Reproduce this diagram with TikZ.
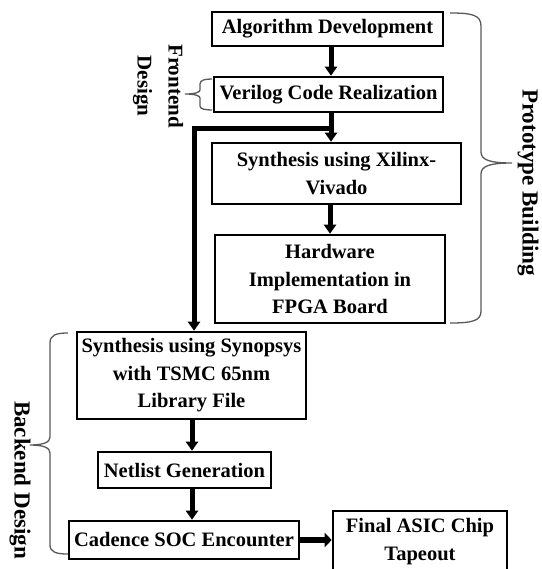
\documentclass[tikz,border=0pt]{standalone}
\usepackage{fontspec}
\setmainfont{Liberation Serif}
\usetikzlibrary{arrows.meta}
\begin{document}
\begin{tikzpicture}[x=1pt,y=-1pt,
  box/.style={draw, line width=2.6pt, align=center, inner sep=0pt,
    font=\fontsize{20.5}{27.5}\selectfont\bfseries},
  arr/.style={line width=5pt, -{Triangle[width=12pt,length=9pt]}},
  harr/.style={line width=6.5pt, -{Triangle[width=14pt,length=7pt]}},
  brc/.style={draw=black!65, line width=1.3pt},
  side/.style={rotate=-90, align=center, inner sep=0pt,
    font=\fontsize{23}{31}\selectfont\bfseries}
]
\useasboundingbox (0,0) rectangle (541,569);

\node[box, minimum width=231pt, minimum height=34pt] (alg) at (327.5,29) {Algorithm Development};
\node[box, minimum width=229pt, minimum height=35pt] (ver) at (328.5,94.5) {Verilog Code Realization};
\node[box, minimum width=249pt, minimum height=61pt] (xil) at (336.5,173.5) {Synthesis using Xilinx-\\Vivado};
\node[box, minimum width=230pt, minimum height=88pt] (hw) at (330,279) {Hardware\\Implementation in\\FPGA Board};
\node[box, minimum width=229pt, minimum height=87pt] (syn) at (191.5,375.5) {Synthesis using Synopsys\\with TSMC 65nm\\Library File};
\node[box, minimum width=173pt, minimum height=36pt] (net) at (184.5,470) {Netlist Generation};
\node[box, minimum width=230pt, minimum height=38pt] (cad) at (184,540) {Cadence SOC Encounter};
\node[box, minimum width=174pt, minimum height=61pt] (fin) at (420,541.5) {Final ASIC Chip\\Tapeout};

\coordinate (br) at (331,129);
\draw[arr] (alg.south -| 331,0) -- (ver.north -| 331,0);
\draw[arr] (ver.south -| 331,0) -- (xil.north -| 331,0);
\draw[line width=5pt] (ver.south -| 331,0) -- (br);
\draw[arr] (br) -| (syn.north -| 194,0);
\draw[arr] (xil.south -| 330,0) -- (hw.north -| 330,0);
\draw[arr] (syn.south -| 192,0) -- (net.north -| 192,0);
\draw[arr] (net.south -| 192,0) -- (cad.north -| 192,0);
\draw[harr] (cad.east) -- (fin.west |- cad.east);

% braces
\draw[brc] (450,13) .. controls (472,13) and (481,15) .. (481,26) -- (481,152)
  .. controls (481,160) and (490,163) .. (512,163)
  .. controls (490,163) and (481,166) .. (481,174) -- (481,311)
  .. controls (481,321) and (472,323) .. (450,323);
\draw[brc] (68,333) .. controls (56,333) and (50,335) .. (50,343) -- (50,437)
  .. controls (50,442) and (44,445) .. (30,445)
  .. controls (44,445) and (50,448) .. (50,453) -- (50,545)
  .. controls (50,552) and (56,554) .. (68,554);
\draw[brc] (212,79) .. controls (205,79) and (200,80) .. (200,84) -- (200,90)
  .. controls (200,92) and (196,94) .. (185,94)
  .. controls (196,94) and (200,96) .. (200,98) -- (200,106)
  .. controls (200,109) and (205,110) .. (212,110);

\node[side] (pb) at (528,182.5) {Prototype Building};
\node[side] (bd) at (20,480) {Backend Design};
\node[side, font=\fontsize{21}{31}\selectfont\bfseries] (fd) at (158,86) {Frontend\\Design};
\end{tikzpicture}
\end{document}
